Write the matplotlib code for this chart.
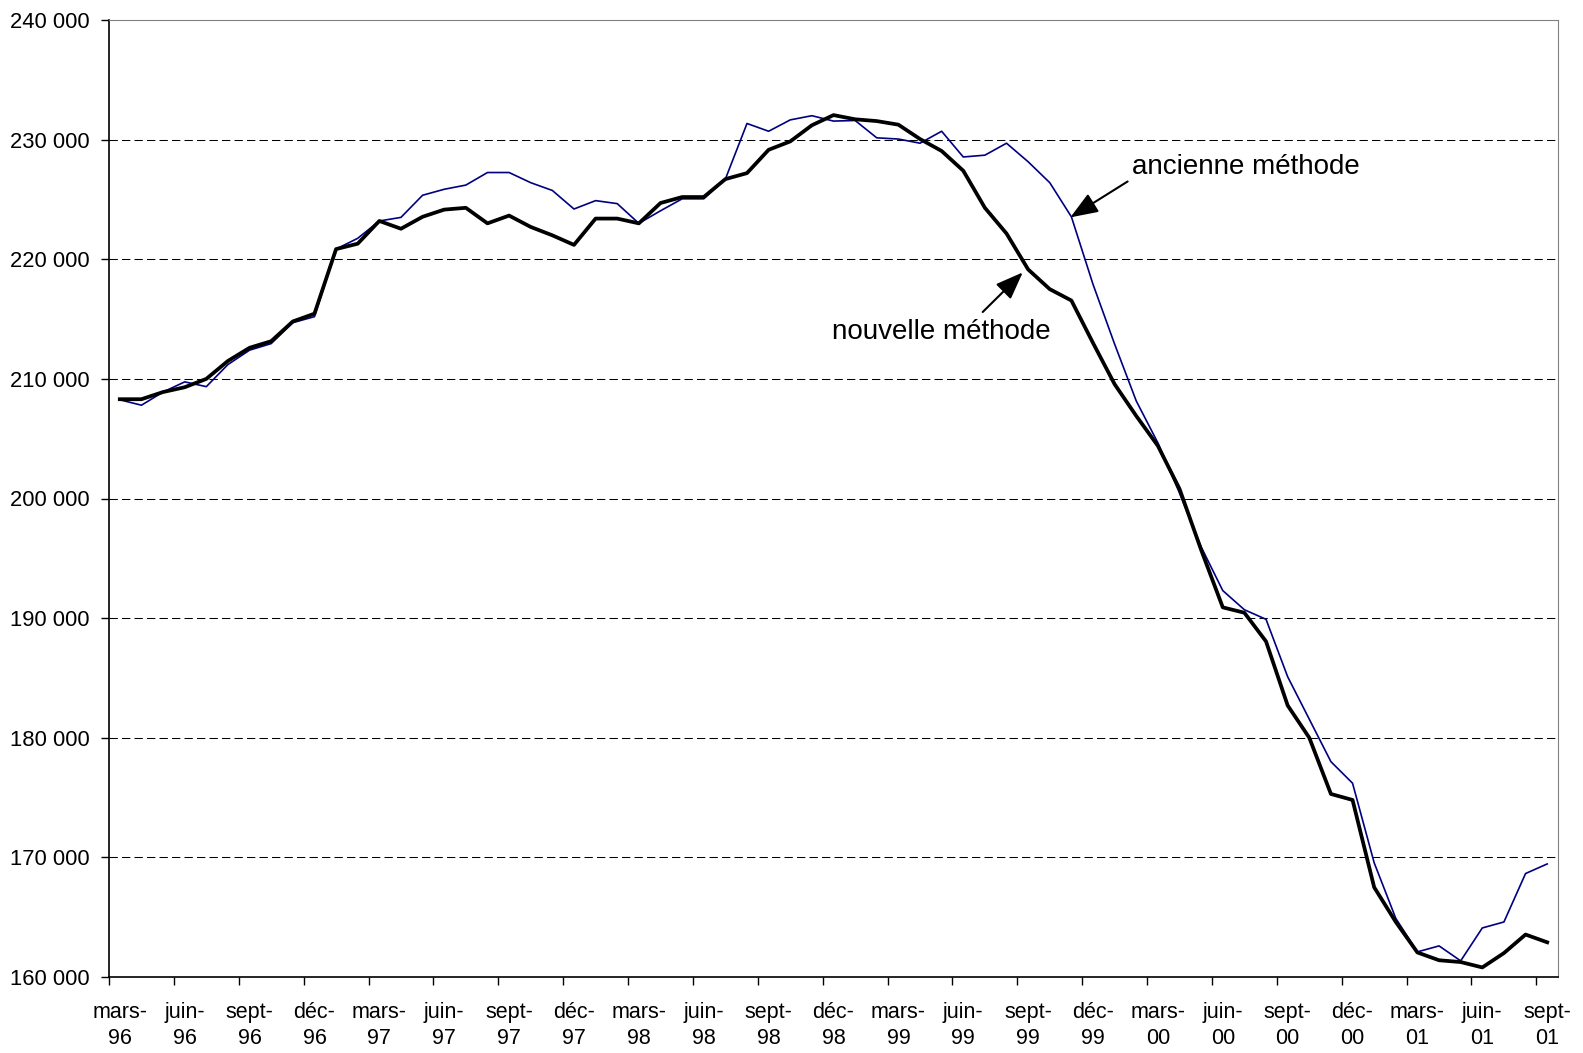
import numpy as np
import matplotlib
matplotlib.use("Agg")
import matplotlib.pyplot as plt
from matplotlib.ticker import FixedLocator, FuncFormatter

plt.rcParams['font.family'] = ['Liberation Sans', 'DejaVu Sans']

# monthly series, mars-96 .. sept-01
nouvelle = [208300, 208300, 208900, 209300, 210000, 211500, 212600, 213150, 214800, 215450,
            220850, 221300, 223200, 222550, 223550, 224150, 224300, 223000, 223650, 222700,
            222000, 221200, 223400, 223400, 223000, 224700, 225200, 225200, 226700, 227200,
            229150, 229850, 231200, 232050, 231700, 231550, 231250, 230050, 229050, 227400,
            224300, 222150, 219150, 217500, 216550, 213000, 209550, 206900, 204400, 200800,
            195700, 190900, 190450, 188050, 182700, 180000, 175300, 174800, 167500, 164600,
            162050, 161400, 161250, 160800, 162000, 163550, 162900]

ancienne = [208250, 207800, 208900, 209750, 209350, 211200, 212400, 212950, 214700, 215200,
            220850, 221750, 223200, 223500, 225350, 225850, 226200, 227250, 227250, 226400,
            225750, 224200, 224900, 224650, 223000, 224050, 225050, 225050, 226700, 231350,
            230700, 231650, 232000, 231550, 231600, 230150, 230050, 229700, 230700, 228550,
            228700, 229700, 228150, 226400, 223550, 217900, 212900, 208150, 204650, 200450,
            195950, 192300, 190700, 189900, 185100, 181550, 178000, 176200, 169550, 164900,
            162100, 162600, 161350, 164100, 164600, 168650, 169450]

tick_labels = ["mars-\n96", "juin-\n96", "sept-\n96", "déc-\n96",
               "mars-\n97", "juin-\n97", "sept-\n97", "déc-\n97",
               "mars-\n98", "juin-\n98", "sept-\n98", "déc-\n98",
               "mars-\n99", "juin-\n99", "sept-\n99", "déc-\n99",
               "mars-\n00", "juin-\n00", "sept-\n00", "déc-\n00",
               "mars-\n01", "juin-\n01", "sept-\n01"]

x = np.arange(len(nouvelle))

fig = plt.figure(figsize=(15.83, 10.53), dpi=100)
ax = fig.add_axes([109/1583, 76/1053, 1449/1583, 957/1053])

ax.set_ylim(160000, 240000)
ax.set_xlim(-0.5, len(x) - 0.5)
ax.set_yticks(np.arange(160000, 240001, 10000))
ax.yaxis.set_major_formatter(FuncFormatter(lambda v, p: f"{int(v):,}".replace(",", " ")))

for yv in range(170000, 240000, 10000):
    ax.axhline(yv, color="black", lw=0.75, linestyle=(0, (8, 4)), zorder=1)

ax.plot(x, ancienne, color="#000080", lw=1.2, zorder=3)
ax.plot(x, nouvelle, color="black", lw=2.7, zorder=4)

# category labels at every 3rd month, tick marks between categories
ax.set_xticks(x[::3])
ax.set_xticklabels(tick_labels, fontsize=15.5, linespacing=1.3)
ax.tick_params(axis="x", length=0, pad=18)
ax.xaxis.set_minor_locator(FixedLocator(np.arange(-0.5, len(x) - 1, 3)))
ax.tick_params(axis="x", which="minor", length=6, width=1, direction="out")
ax.tick_params(axis="y", length=6, width=1, direction="out", pad=8, labelsize=15.8)

for s in ["top", "right"]:
    ax.spines[s].set_color("#808080")
for s in ["left", "bottom"]:
    ax.spines[s].set_color("black")
    ax.spines[s].set_linewidth(1.2)

arrow = dict(arrowstyle="-|>,head_length=1.3,head_width=0.5", color="black",
             lw=1.5, shrinkA=0, shrinkB=0, mutation_scale=13)
ax.annotate("", xy=(43.95, 223500), xytext=(46.6, 226500), arrowprops=arrow, zorder=5)
ax.text(46.8, 227710, "ancienne méthode", fontsize=20, ha="left", va="center")
ax.annotate("", xy=(41.75, 218900), xytext=(39.9, 215590), arrowprops=arrow, zorder=5)
ax.text(38.0, 213920, "nouvelle méthode", fontsize=20, ha="center", va="center")

fig.savefig("out.png", dpi=100)
